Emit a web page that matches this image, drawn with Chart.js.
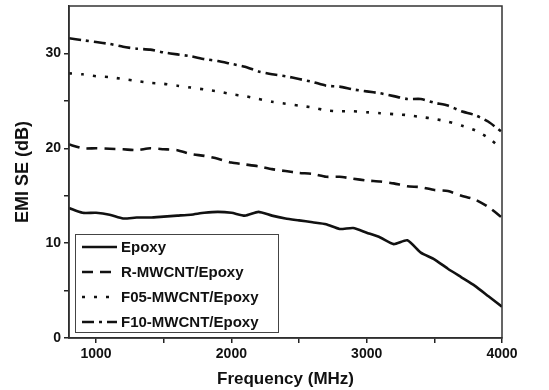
<!DOCTYPE html>
<html>
<head>
<meta charset="utf-8">
<script src="https://cdn.jsdelivr.net/npm/chart.js@4"></script>
<style>
  html, body { margin: 0; padding: 0; background: #fff; }
  #wrap { width: 549px; height: 390px; }
</style>
</head>
<body>
<div id="wrap"><canvas id="chart" width="549" height="390"></canvas></div>
<script>
// Frequency (MHz)
const freq = [800, 900, 1000, 1100, 1200, 1300, 1400, 1500, 1600, 1700, 1800, 1900, 2000,
  2100, 2200, 2300, 2400, 2500, 2600, 2700, 2800, 2900, 3000, 3100, 3200, 3300, 3400,
  3500, 3600, 3700, 3800, 3900, 4000];

// EMI SE (dB) per sample
const epoxy = [13.7, 13.2, 13.2, 13.0, 12.6, 12.7, 12.7, 12.8, 12.9, 13.0, 13.2, 13.3, 13.2,
  12.9, 13.3, 12.9, 12.6, 12.4, 12.2, 12.0, 11.5, 11.6, 11.1, 10.6, 9.9, 10.3, 9.0,
  8.3, 7.3, 6.4, 5.5, 4.4, 3.3];
const rMwcnt = [20.4, 20.0, 20.0, 19.95, 19.9, 19.8, 20.0, 19.9, 19.8, 19.4, 19.2, 18.9, 18.5,
  18.3, 18.1, 17.8, 17.6, 17.4, 17.3, 17.0, 17.0, 16.8, 16.6, 16.5, 16.3, 16.0, 15.9,
  15.6, 15.5, 15.0, 14.6, 13.8, 12.7];
const f05Mwcnt = [27.9, 27.8, 27.6, 27.5, 27.3, 27.1, 26.9, 26.8, 26.6, 26.4, 26.2, 26.0, 25.7,
  25.5, 25.2, 24.9, 24.7, 24.5, 24.3, 24.0, 23.9, 23.9, 23.8, 23.7, 23.6, 23.5, 23.3,
  23.1, 22.8, 22.4, 21.9, 21.1, 19.9];
const f10Mwcnt = [31.6, 31.4, 31.2, 31.0, 30.7, 30.5, 30.4, 30.1, 29.9, 29.7, 29.4, 29.2, 28.9,
  28.6, 28.1, 27.8, 27.6, 27.3, 27.0, 26.6, 26.5, 26.2, 26.0, 25.8, 25.5, 25.2, 25.2,
  24.8, 24.5, 23.9, 23.5, 22.8, 21.7];

const seriesNames = ['Epoxy', 'R-MWCNT/Epoxy', 'F05-MWCNT/Epoxy', 'F10-MWCNT/Epoxy'];
const xTicks = [1000, 1500, 2000, 2500, 3000, 3500, 4000];
const xTickLabels = [1000, 2000, 3000, 4000];
const yTicks = [0, 5, 10, 15, 20, 25, 30];
const yTickLabels = [0, 10, 20, 30];

const FONT = '"Liberation Sans", Arial, sans-serif';
const INK = '#111';

function toPoints(values) {
  return freq.map((f, i) => ({ x: f, y: values[i] }));
}

function makeDataset(label, values, dash) {
  return {
    label: label,
    data: toPoints(values),
    borderColor: INK,
    borderWidth: 2.6,
    borderDash: dash,
    borderCapStyle: 'butt',
    pointRadius: 0,
    tension: 0.2,
    fill: false
  };
}

// Frame around the plot area and the in-plot legend
const framePlugin = {
  id: 'frame',
  afterDraw(chart) {
    const { ctx, chartArea: a } = chart;
    ctx.save();
    ctx.strokeStyle = '#333';
    ctx.lineWidth = 1.5;
    ctx.strokeRect(a.left, a.top, a.right - a.left, a.bottom - a.top);

    // legend box
    const bx = a.left + 6, by = a.bottom - 104, bw = 203, bh = 98;
    ctx.fillStyle = '#fff';
    ctx.fillRect(bx, by, bw, bh);
    ctx.strokeStyle = '#444';
    ctx.lineWidth = 1;
    ctx.strokeRect(bx + 0.5, by + 0.5, bw, bh);

    ctx.font = 'bold 15px ' + FONT;
    ctx.textBaseline = 'middle';
    chart.data.datasets.forEach((ds, i) => {
      const y = by + 13 + i * 25;
      ctx.beginPath();
      ctx.setLineDash(ds.borderDash || []);
      ctx.lineWidth = 2.6;
      ctx.strokeStyle = INK;
      ctx.moveTo(bx + 7, y);
      ctx.lineTo(bx + 42, y);
      ctx.stroke();
      ctx.setLineDash([]);
      ctx.fillStyle = INK;
      ctx.fillText(ds.label, bx + 46, y + 1);
    });
    ctx.restore();
  }
};

new Chart(document.getElementById('chart'), {
  type: 'line',
  data: {
    datasets: [
      makeDataset(seriesNames[0], epoxy, []),
      makeDataset(seriesNames[1], rMwcnt, [11, 7]),
      makeDataset(seriesNames[2], f05Mwcnt, [3, 9]),
      makeDataset(seriesNames[3], f10Mwcnt, [12, 5, 3, 5])
    ]
  },
  options: {
    responsive: false,
    animation: false,
    layout: { padding: { top: 6, right: 47, left: 0, bottom: 0 } },
    plugins: {
      legend: { display: false },
      tooltip: { enabled: false }
    },
    scales: {
      x: {
        type: 'linear',
        min: 800,
        max: 4000,
        afterFit(scale) { scale.height = 52; },
        afterBuildTicks(scale) { scale.ticks = xTicks.map(v => ({ value: v })); },
        border: { display: true, color: '#222', width: 1.5 },
        grid: { drawOnChartArea: false, drawTicks: true, tickLength: 5, color: '#222', lineWidth: 1.5 },
        ticks: {
          padding: 3,
          color: INK,
          font: { family: FONT, size: 14, weight: 'bold' },
          maxRotation: 0,
          autoSkip: false,
          callback: v => xTickLabels.includes(v) ? String(v) : ''
        },
        title: {
          display: true,
          text: 'Frequency (MHz)',
          color: INK,
          font: { family: FONT, size: 17, weight: 'bold' },
          padding: { top: 1, bottom: 0 }
        }
      },
      y: {
        min: 0,
        max: 35,
        afterFit(scale) {
          scale.width = 69;
          scale.paddingTop = 0;
          scale.paddingBottom = 0;
        },
        afterBuildTicks(scale) { scale.ticks = yTicks.map(v => ({ value: v })); },
        border: { display: true, color: '#222', width: 1.5 },
        grid: { drawOnChartArea: false, drawTicks: true, tickLength: 5, color: '#222', lineWidth: 1.5 },
        ticks: {
          padding: 3,
          color: INK,
          font: { family: FONT, size: 14, weight: 'bold' },
          autoSkip: false,
          callback: v => yTickLabels.includes(v) ? String(v) : ''
        },
        title: {
          display: true,
          text: 'EMI SE (dB)',
          color: INK,
          font: { family: FONT, size: 18, weight: 'bold' },
          padding: { top: 12, bottom: 0 }
        }
      }
    }
  },
  plugins: [framePlugin]
});
</script>
</body>
</html>
